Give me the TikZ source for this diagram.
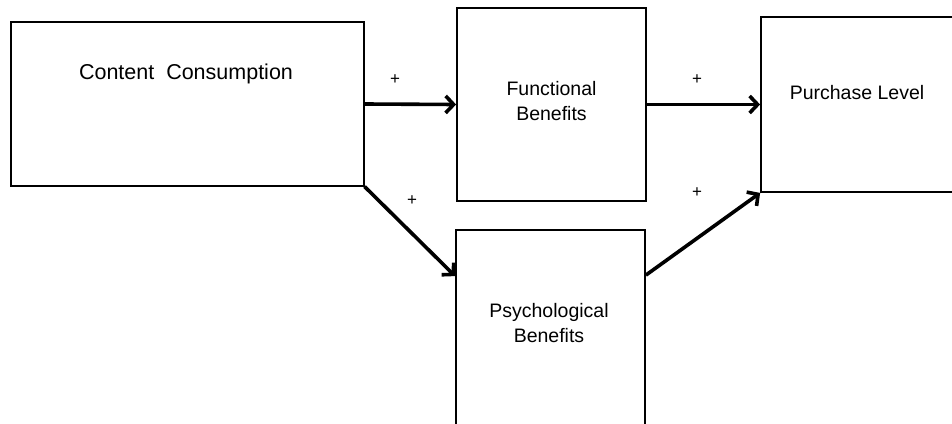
\documentclass[tikz,border=0pt]{standalone}
\usepackage{fontspec}
\setmainfont{Liberation Sans}
\usetikzlibrary{arrows.meta}
\begin{document}
\begin{tikzpicture}[x=1pt,y=-1pt,
  box/.style={draw=black,line width=1.8pt,fill=none,inner sep=0pt},
  lbl/.style={inner sep=0pt,align=center,text=black,font=\fontsize{19.5}{24.5}\selectfont},
  biglbl/.style={inner sep=0pt,text=black,font=\fontsize{21.5}{26}\selectfont},
  sign/.style={inner sep=0pt,text=black,font=\fontsize{17}{20}\selectfont},
  arr/.style={line width=3.6pt,-{Straight Barb[length=8pt,width=17pt]}}]
\useasboundingbox (0,0) rectangle (952,423);
\clip (0,0) rectangle (952,423);
\fill[white] (0,0) rectangle (952,423);

% boxes
\node[box,minimum width=353pt,minimum height=164pt] (cc) at (187.5,104) {};
\node[box,minimum width=189pt,minimum height=193pt] (fb) at (551.5,104.5) {};
\node[box,minimum width=189pt,minimum height=200pt] (pb) at (550.5,330) {};
\node[box,minimum width=210pt,minimum height=175pt] (pl) at (866,104.5) {};

% box texts
\node[biglbl] (cctext) at (186,74) {Content\ \ Consumption};
\node[lbl] (fbtext) at (551.5,101) {Functional\\Benefits};
\node[lbl] (pbtext) at (549,323) {Psychological\\Benefits};
\node[lbl] (pltext) at (857,93) {Purchase Level};

% connectors
\draw[arr] (cc.east) -- (fb.west);
\draw[arr] (fb.east) -- (pl.west);
\draw[arr,shorten <=-0.5pt] (cc.south east) -- ([yshift=-47pt]pb.north west);
\draw[arr] ([yshift=-46pt]pb.north east) -- (pl.south west);

% signs
\node[sign] (s1) at (395,80) {+};
\node[sign] (s2) at (412,201) {+};
\node[sign] (s3) at (697,80) {+};
\node[sign] (s4) at (697,193) {+};
\end{tikzpicture}
\end{document}
